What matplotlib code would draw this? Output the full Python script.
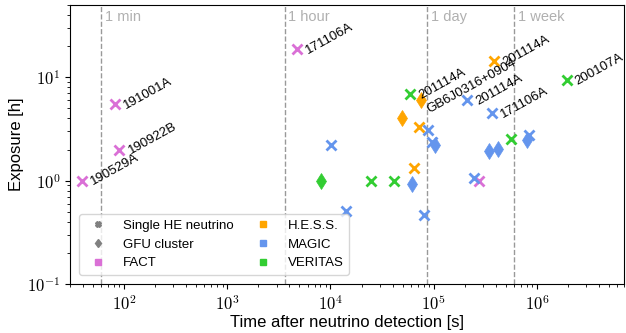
import matplotlib.pyplot as plt
from matplotlib.lines import Line2D
from matplotlib.ticker import FuncFormatter
import numpy as np

plt.rcParams['font.family'] = ['Liberation Sans', 'DejaVu Sans']
plt.rcParams['mathtext.fontset'] = 'cm'

colors = {'FACT': 'orchid', 'H.E.S.S.': 'orange', 'MAGIC': 'cornflowerblue', 'VERITAS': 'limegreen'}

# follow-up observations: (time after alert [s], exposure [h])
fact_single_t = [39, 90, 82, 4740, 275000]
fact_single_h = [1.0, 2.0, 5.5, 18.6, 1.0]
fact_single_lab = ['190529A', '190922B', '191001A', '171106A', '']

hess_single_t = [65000, 72600, 384000]
hess_single_h = [1.32, 3.29, 14.3]
hess_single_lab = ['', '', '201114A']
hess_gfu_t = [48800, 75900]
hess_gfu_h = [4.0, 6.0]
hess_gfu_lab = ['', 'GB6J0316+0904']

magic_single_t = [10100, 14100, 81100, 88700, 97000, 211000, 246000, 367000, 834000]
magic_single_h = [2.2, 0.51, 0.47, 3.07, 2.35, 6.0, 1.06, 4.5, 2.75]
magic_single_lab = ['', '', '', '', '', '201114A', '', '171106A', '']
magic_gfu_t = [62200, 103600, 344000, 419000, 798000]
magic_gfu_h = [0.92, 2.2, 1.93, 2.01, 2.46]

veritas_single_t = [24500, 40800, 59600, 560000, 1940000]
veritas_single_h = [1.0, 1.0, 6.85, 2.52, 9.35]
veritas_single_lab = ['', '', '201114A', '', '200107A']
veritas_gfu_t = [8100]
veritas_gfu_h = [1.0]

time_marks = [60, 3600, 86400, 604800]
time_names = ['1 min', '1 hour', '1 day', '1 week']

fig = plt.figure(figsize=(6.26, 3.33), dpi=100)
ax = fig.add_axes([0.112, 0.147, 0.885, 0.838])

for t, name in zip(time_marks, time_names):
    ax.axvline(t, color='grey', ls='--', lw=1, alpha=0.8, zorder=0)
    ax.text(t * 1.08, 38, name, color='#b0b0b0', fontsize=10.5, va='center')


def label(t, h, labels, off):
    for ti, hi, lab in zip(t, h, labels):
        if lab:
            ax.annotate(lab, (ti, hi), xytext=off, textcoords='offset points',
                        rotation=29, rotation_mode='anchor', ha='left', va='center', fontsize=9.5)


def single(t, h, col, labels=None):
    ax.plot(t, h, 'x', color=col, ms=7, mew=2, ls='none')
    if labels:
        label(t, h, labels, (7, -1.5))


def gfu(t, h, col, labels=None):
    ax.plot(t, h, 'd', color=col, ms=8, mew=0.5, ls='none')
    if labels:
        label(t, h, labels, (5, -7))


single(fact_single_t, fact_single_h, colors['FACT'], fact_single_lab)
single(hess_single_t, hess_single_h, colors['H.E.S.S.'], hess_single_lab)
gfu(hess_gfu_t, hess_gfu_h, colors['H.E.S.S.'], hess_gfu_lab)
single(magic_single_t, magic_single_h, colors['MAGIC'], magic_single_lab)
gfu(magic_gfu_t, magic_gfu_h, colors['MAGIC'])
single(veritas_single_t, veritas_single_h, colors['VERITAS'], veritas_single_lab)
gfu(veritas_gfu_t, veritas_gfu_h, colors['VERITAS'])

ax.set_xscale('log')
ax.set_yscale('log')
ax.set_xlim(30, 7e6)
ax.set_ylim(0.1, 50)
pow10 = FuncFormatter(lambda v, pos: r'$10^{%d}$' % int(round(np.log10(v))))
ax.xaxis.set_major_formatter(pow10)
ax.yaxis.set_major_formatter(pow10)
ax.set_xlabel('Time after neutrino detection [s]', fontsize=12, labelpad=1)
ax.set_ylabel('Exposure [h]', fontsize=12, labelpad=2)
ax.tick_params(labelsize=12)

handles = [
    Line2D([], [], marker='X', color='grey', ls='none', ms=4, label='Single HE neutrino'),
    Line2D([], [], marker='d', color='grey', ls='none', ms=4.5, label='GFU cluster'),
    Line2D([], [], marker='s', color=colors['FACT'], ls='none', ms=4, label='FACT'),
    Line2D([], [], marker='s', color=colors['H.E.S.S.'], ls='none', ms=4, label='H.E.S.S.'),
    Line2D([], [], marker='s', color=colors['MAGIC'], ls='none', ms=4, label='MAGIC'),
    Line2D([], [], marker='s', color=colors['VERITAS'], ls='none', ms=4, label='VERITAS'),
]
ax.legend(handles=handles, ncol=2, loc='lower left', fontsize=9.5, columnspacing=1.2,
          bbox_to_anchor=(0.005, 0.01), handletextpad=0.9)

fig.savefig('out.png', dpi=100)
